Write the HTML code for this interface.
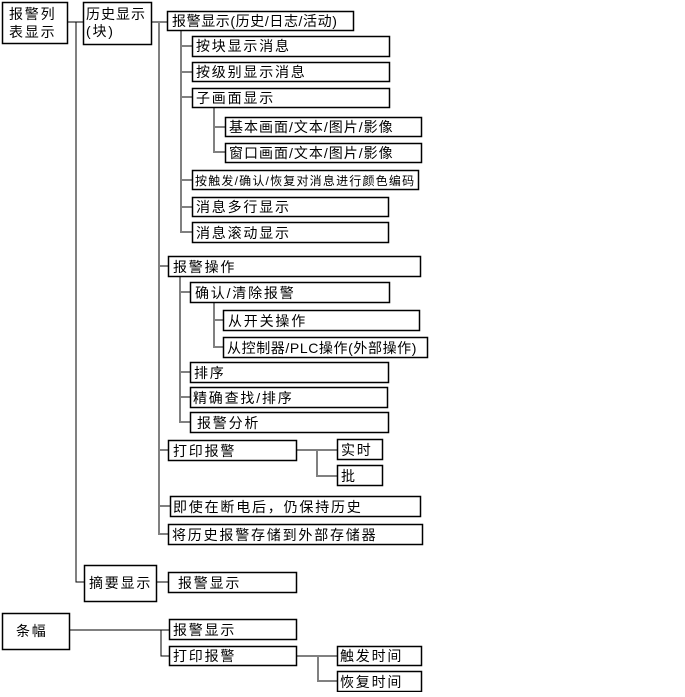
<!DOCTYPE html>
<html><head><meta charset="utf-8"><style>
body{margin:0;background:#fff;}
svg text{font-family:"Liberation Sans","Noto Sans CJK SC",sans-serif;font-size:14px;fill:#000;letter-spacing:1.8px;}
</style></head><body>
<svg width="685" height="692" xmlns="http://www.w3.org/2000/svg">
<g stroke="#000" stroke-width="1" fill="none">
<path d="M67 22H76V582H84"/>
<path d="M76 22H83"/>
<path d="M69 630H161V656H169M161 630H169"/>
<path d="M156 582H168"/>
</g>
<g stroke="#808080" stroke-width="2" fill="none">
<path d="M151 22H159V534H168M159 22H167M159 266H168M159 450H168M159 506H170"/>
<path d="M181 30V232H192M181 46H192M181 72H192M181 97H192M181 180H192M181 207H192"/>
<path d="M214 107V152H225M214 127H225"/>
<path d="M180 276V422H190M180 292H190M180 372H190M180 397H190"/>
<path d="M214 302V347H223M214 320H223"/>
<path d="M296 450H337M317 450V476H337"/>
<path d="M296 656H337M318 656V681H337"/>
</g>
<g stroke="#000" stroke-width="1.5" fill="#fff">
<rect x="2.5" y="2.5" width="65" height="41"/>
<rect x="83.5" y="2.5" width="68" height="42"/>
<rect x="167.5" y="11.5" width="186" height="19"/>
<rect x="192.5" y="36.5" width="197" height="20"/>
<rect x="192.5" y="62.5" width="197" height="19"/>
<rect x="192.5" y="88.5" width="197" height="19"/>
<rect x="225.5" y="117.5" width="196" height="19"/>
<rect x="225.5" y="143.5" width="196" height="19"/>
<rect x="192.5" y="170.5" width="226" height="19"/>
<rect x="192.5" y="197.5" width="196" height="19"/>
<rect x="192.5" y="222.5" width="196" height="20"/>
<rect x="168.5" y="256.5" width="252" height="20"/>
<rect x="190.5" y="282.5" width="199" height="20"/>
<rect x="223.5" y="310.5" width="196" height="20"/>
<rect x="223.5" y="337.5" width="204" height="20"/>
<rect x="190.5" y="362.5" width="198" height="20"/>
<rect x="190.5" y="387.5" width="197" height="20"/>
<rect x="190.5" y="412.5" width="198" height="20"/>
<rect x="168.5" y="440.5" width="128" height="20"/>
<rect x="337.5" y="439.5" width="45" height="20"/>
<rect x="337.5" y="465.5" width="45" height="20"/>
<rect x="170.5" y="496.5" width="250" height="20"/>
<rect x="168.5" y="524.5" width="254" height="20"/>
<rect x="84.5" y="565.5" width="72" height="36"/>
<rect x="168.5" y="572.5" width="128" height="20"/>
<rect x="2.5" y="613.5" width="67" height="36"/>
<rect x="169.5" y="619.5" width="127" height="20"/>
<rect x="169.5" y="646.5" width="127" height="19"/>
<rect x="337.5" y="646.5" width="84" height="19"/>
<rect x="337.5" y="671.5" width="84" height="20"/>
</g>
<text x="9" y="19">报警列</text>
<text x="9" y="37">表显示</text>
<text x="86" y="19" style="letter-spacing:1px">历史显示</text>
<text x="86" y="36">(块)</text>
<text x="172" y="26" style="letter-spacing:0.6px">报警显示(历史/日志/活动)</text>
<text x="196" y="51">按块显示消息</text>
<text x="196" y="77">按级别显示消息</text>
<text x="196" y="103">子画面显示</text>
<text x="229" y="132" style="letter-spacing:1px">基本画面/文本/图片/影像</text>
<text x="229" y="158" style="letter-spacing:1px">窗口画面/文本/图片/影像</text>
<text x="195" y="185" style="font-size:12px;letter-spacing:1.2px">按触发/确认/恢复对消息进行颜色编码</text>
<text x="196" y="212">消息多行显示</text>
<text x="196" y="238">消息滚动显示</text>
<text x="173" y="272">报警操作</text>
<text x="195" y="298">确认/清除报警</text>
<text x="228" y="326">从开关操作</text>
<text x="227" y="353" style="letter-spacing:0.6px">从控制器/PLC操作(外部操作)</text>
<text x="194" y="378">排序</text>
<text x="193" y="403">精确查找/排序</text>
<text x="197" y="428">报警分析</text>
<text x="173" y="456">打印报警</text>
<text x="341" y="455">实时</text>
<text x="341" y="481">批</text>
<text x="173" y="512">即使在断电后，仍保持历史</text>
<text x="172" y="540">将历史报警存储到外部存储器</text>
<text x="89" y="588">摘要显示</text>
<text x="178" y="588">报警显示</text>
<text x="16" y="636">条幅</text>
<text x="173" y="635">报警显示</text>
<text x="173" y="661">打印报警</text>
<text x="340" y="661">触发时间</text>
<text x="340" y="687">恢复时间</text>
</svg>
</body></html>
